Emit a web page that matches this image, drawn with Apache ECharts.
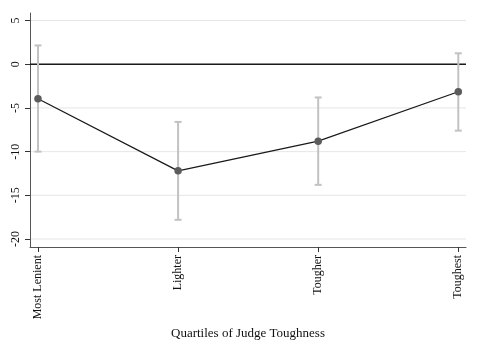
<!DOCTYPE html>
<html>
<head>
<meta charset="utf-8">
<script src="https://cdn.jsdelivr.net/npm/echarts@6/dist/echarts.min.js"></script>
<style>
  html, body { margin: 0; padding: 0; background: #fff; }
  #main { width: 499px; height: 356px; }
</style>
</head>
<body>
<div id="main"></div>
<script>
// categories (quartiles)
var categories = ["Most Lenient", "Lighter", "Tougher", "Toughest"];
// point estimates
var estimates = [-3.95, -12.2, -8.8, -3.15];
// 95% CI bounds
var ciLow = [-10.0, -17.8, -13.8, -7.6];
var ciHigh = [2.15, -6.6, -3.8, 1.25];
// y ticks
var yTicks = [-20, -15, -10, -5, 0, 5];

var chart = echarts.init(document.getElementById("main"));

var pointData = estimates.map(function (v, i) { return [i + 1, v]; });
var ciData = ciLow.map(function (v, i) { return [i + 1, v, ciHigh[i]]; });

var serif = "Liberation Serif";

var option = {
    animation: false,
    grid: { left: 30, right: 33, top: 13, bottom: 109, containLabel: false },
    xAxis: {
        type: "value",
        min: 0.943,
        max: 4.055,
        interval: 1,
        splitLine: { show: false },
        axisLine: { show: true, onZero: false, lineStyle: { color: "#555", width: 1 } },
        axisTick: { show: true, length: 5, lineStyle: { color: "#333" },
            customValues: [1, 2, 3, 4] },
        axisLabel: {
            rotate: 90,
            margin: 8,
            fontFamily: serif,
            fontSize: 12,
            color: "#111",
            customValues: [1, 2, 3, 4],
            formatter: function (v) { return categories[Math.round(v) - 1] || ""; }
        },
        name: "Quartiles of Judge Toughness",
        nameLocation: "middle",
        nameGap: 79,
        nameTextStyle: { fontFamily: serif, fontSize: 13, color: "#111" }
    },
    yAxis: {
        type: "value",
        min: -20.91,
        max: 5.86,
        axisLine: { show: true, onZero: false, lineStyle: { color: "#555", width: 1 } },
        axisTick: { show: true, length: 5, lineStyle: { color: "#333" }, customValues: yTicks },
        axisLabel: {
            rotate: 90,
            margin: 8,
            fontFamily: serif,
            fontSize: 12,
            color: "#111",
            customValues: yTicks
        },
        splitLine: { show: false }
    },
    series: [
        {
            // light horizontal grid lines at the tick values
            type: "custom",
            silent: true,
            z: 0,
            data: yTicks.map(function (t) { return [t]; }),
            renderItem: function (params, api) {
                var c = api.coord([0, api.value(0)]);
                var cs = params.coordSys;
                return {
                    type: "line",
                    shape: { x1: cs.x + 1, y1: c[1], x2: cs.x + cs.width, y2: c[1] },
                    style: { stroke: "#e6e6e6", lineWidth: 1 }
                };
            }
        },
        {
            // zero reference line
            type: "custom",
            silent: true,
            z: 1,
            data: [[0]],
            renderItem: function (params, api) {
                var c = api.coord([0, api.value(0)]);
                var cs = params.coordSys;
                return {
                    type: "line",
                    shape: { x1: cs.x, y1: c[1], x2: cs.x + cs.width, y2: c[1] },
                    style: { stroke: "#1a1a1a", lineWidth: 1.4 }
                };
            }
        },
        {
            // confidence intervals
            type: "custom",
            z: 2,
            data: ciData,
            renderItem: function (params, api) {
                var lo = api.coord([api.value(0), api.value(1)]);
                var hi = api.coord([api.value(0), api.value(2)]);
                var w = 3.5;
                var st = { stroke: "#c2c2c2", lineWidth: 2 };
                return {
                    type: "group",
                    children: [
                        { type: "line", shape: { x1: lo[0], y1: lo[1], x2: hi[0], y2: hi[1] }, style: st },
                        { type: "line", shape: { x1: lo[0] - w, y1: lo[1], x2: lo[0] + w, y2: lo[1] }, style: st },
                        { type: "line", shape: { x1: hi[0] - w, y1: hi[1], x2: hi[0] + w, y2: hi[1] }, style: st }
                    ]
                };
            }
        },
        {
            type: "line",
            z: 3,
            data: pointData,
            symbol: "circle",
            symbolSize: 7.5,
            lineStyle: { color: "#1a1a1a", width: 1.3 },
            itemStyle: { color: "#5c5c5c" }
        }
    ]
};

chart.setOption(option);
</script>
</body>
</html>
